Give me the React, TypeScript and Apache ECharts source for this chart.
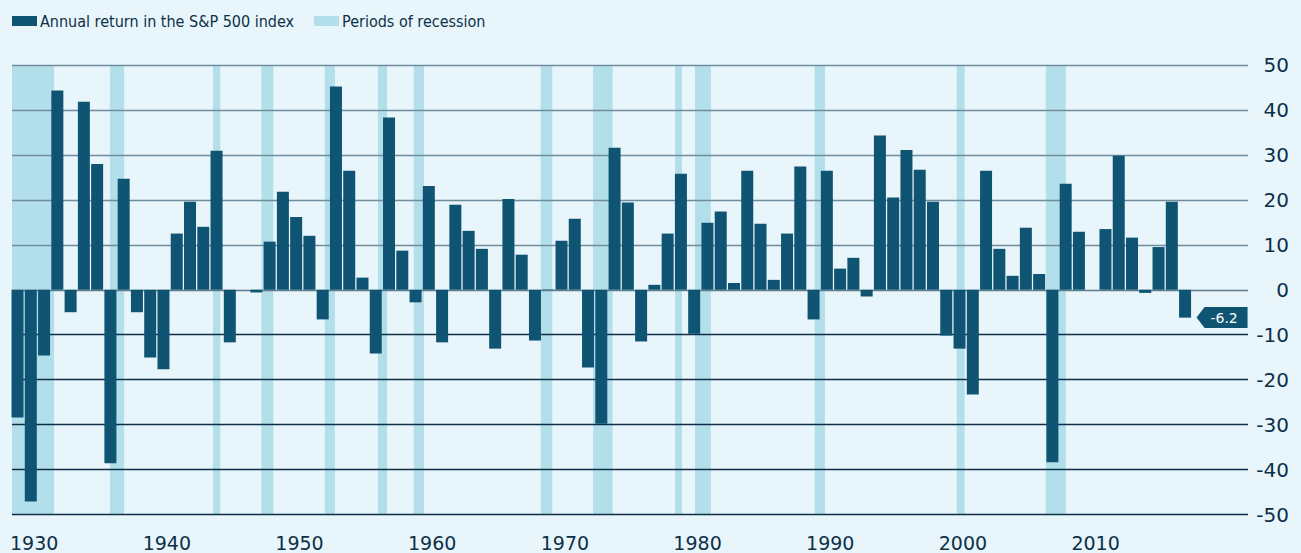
import React, { useEffect, useRef } from "react";
import * as echarts from "echarts";

// Calendar years shown as bars
const years = [
  1930, 1931, 1932, 1933, 1934, 1935, 1936, 1937, 1938, 1939,
  1940, 1941, 1942, 1943, 1944, 1945, 1946, 1947, 1948, 1949,
  1950, 1951, 1952, 1953, 1954, 1955, 1956, 1957, 1958, 1959,
  1960, 1961, 1962, 1963, 1964, 1965, 1966, 1967, 1968, 1969,
  1970, 1971, 1972, 1973, 1974, 1975, 1976, 1977, 1978, 1979,
  1980, 1981, 1982, 1983, 1984, 1985, 1986, 1987, 1988, 1989,
  1990, 1991, 1992, 1993, 1994, 1995, 1996, 1997, 1998, 1999,
  2000, 2001, 2002, 2003, 2004, 2005, 2006, 2007, 2008, 2009,
  2010, 2011, 2012, 2013, 2014, 2015, 2016, 2017, 2018,
];

// Annual return of the S&P 500 index, %
const annualReturns = [
  -28.4, -47.1, -14.6, 44.3, -5.0, 41.8, 28.0, -38.6, 24.7, -5.0,
  -15.1, -17.7, 12.5, 19.6, 14.0, 30.9, -11.7, 0.0, -0.6, 10.7,
  21.8, 16.2, 12.0, -6.6, 45.2, 26.5, 2.7, -14.2, 38.3, 8.7,
  -2.8, 23.1, -11.7, 18.9, 13.1, 9.1, -13.1, 20.2, 7.8, -11.3,
  0.1, 10.9, 15.8, -17.3, -29.8, 31.6, 19.4, -11.5, 1.1, 12.5,
  25.8, -9.8, 14.9, 17.4, 1.5, 26.5, 14.7, 2.2, 12.5, 27.4,
  -6.6, 26.5, 4.7, 7.1, -1.5, 34.3, 20.5, 31.1, 26.7, 19.6,
  -10.2, -13.1, -23.3, 26.5, 9.1, 3.1, 13.8, 3.5, -38.4, 23.6,
  12.9, 0.0, 13.5, 29.8, 11.6, -0.7, 9.5, 19.6, -6.2,
];

// Recession periods (start, end) in fractional calendar years
const recessionStarts = [
  1929.58, 1937.38, 1945.15, 1948.8, 1953.58, 1957.58, 1960.28,
  1969.85, 1973.8, 1979.98, 1981.48, 1990.5, 2001.2, 2007.92,
];
const recessionEnds = [
  1933.17, 1938.45, 1945.7, 1949.7, 1954.34, 1958.27, 1961.05,
  1970.72, 1975.27, 1980.5, 1982.68, 1991.27, 2001.8, 2009.43,
];

const decadeLabels = [1930, 1940, 1950, 1960, 1970, 1980, 1990, 2000, 2010];
const yTicks = [-50, -40, -30, -20, -10, 0, 10, 20, 30, 40, 50];

const SERIES_NAME = "Annual return in the S&P 500 index";
const RECESSION_NAME = "Periods of recession";

const BAR_COLOR = "#0f5472";
const BAND_COLOR = "#b3dfeb";
const TEXT_COLOR = "#0d3049";
const BG = "#e8f5fa";

export default function App() {
  const ref = useRef<HTMLDivElement>(null);

  useEffect(() => {
    if (!ref.current) return;
    const chart = echarts.init(ref.current, undefined, { renderer: "svg" });

    const X_MIN = 1929.5;
    const X_MAX = 2022.66;
    // a bar for year Y is centered on axis value Y and spans calendar time Y..Y+1
    const toAxis = (t: number) => Math.max(X_MIN, t - 0.5);

    const barData = years.map((y, i) => [y, annualReturns[i]]);
    const lastIdx = years.length - 1;

    const bands = recessionStarts.map((s, i) => [
      { xAxis: toAxis(s) },
      { xAxis: toAxis(recessionEnds[i]) },
    ]);

    // split line colours from bottom (-50) to top (50)
    const splitColors = yTicks.map((v) =>
      v < 0 ? "#0e2f4a" : v === 0 ? "#5f7d8d" : "#6f8d9c"
    );

    chart.setOption({
      animation: false,
      backgroundColor: BG,
      textStyle: { fontFamily: "DejaVu Sans" },
      legend: {
        left: 7,
        top: 8,
        itemWidth: 25,
        itemHeight: 10,
        itemGap: 20,
        icon: "rect",
        selectedMode: false,
        data: [SERIES_NAME, RECESSION_NAME],
        textStyle: {
          color: TEXT_COLOR,
          fontSize: 16,
          fontFamily: "DejaVu Sans Condensed",
          padding: [0, 0, 0, -2],
        },
      },
      grid: { left: 12, right: 53, top: 65, bottom: 38.5 },
      xAxis: {
        type: "value",
        min: X_MIN,
        max: X_MAX,
        axisLine: { show: false },
        axisTick: { show: false },
        splitLine: { show: false },
        axisLabel: {
          customValues: decadeLabels.map((d) => d - 0.5),
          formatter: (v: number) => String(Math.round(v + 0.5)),
          align: "left",
          margin: 19,
          color: TEXT_COLOR,
          fontSize: 19,
          lineHeight: 19,
          fontFamily: "DejaVu Sans",
          padding: [0, 0, 0, -2],
        },
      },
      yAxis: {
        type: "value",
        position: "right",
        min: -50,
        max: 50,
        interval: 10,
        z: 1,
        axisLine: { show: false },
        axisTick: { show: false },
        axisLabel: {
          align: "right",
          margin: 41,
          color: TEXT_COLOR,
          fontSize: 20,
          fontFamily: "DejaVu Sans",
        },
        splitLine: {
          lineStyle: { color: splitColors, width: 1.3 },
        },
      },
      series: [
        {
          name: SERIES_NAME,
          type: "bar",
          z: 3,
          barWidth: 12,
          itemStyle: { color: BAR_COLOR },
          data: barData,
          markPoint: {
            silent: true,
            symbol: "path://M0,10.5 L8,0 L51,0 L51,21 L8,21 Z",
            symbolSize: [51, 21],
            symbolKeepAspect: false,
            symbolOffset: [37, 0],
            itemStyle: { color: BAR_COLOR },
            label: {
              show: true,
              position: "inside",
              offset: [2, 0],
              color: "#ffffff",
              fontSize: 14,
              fontFamily: "DejaVu Sans",
              formatter: (p: any) => String(p.value),
            },
            data: [
              {
                coord: [years[lastIdx], annualReturns[lastIdx]],
                value: annualReturns[lastIdx],
              },
            ],
          },
        },
        {
          name: RECESSION_NAME,
          type: "bar",
          z: 0,
          data: [],
          itemStyle: { color: BAND_COLOR },
          markArea: {
            silent: true,
            z: 0,
            itemStyle: { color: BAND_COLOR },
            data: bands,
          },
        },
      ],
    });

    return () => chart.dispose();
  }, []);

  return (
    <div
      ref={ref}
      style={{ position: "fixed", left: 0, top: 0, width: 1301, height: 553, background: BG }}
    />
  );
}
